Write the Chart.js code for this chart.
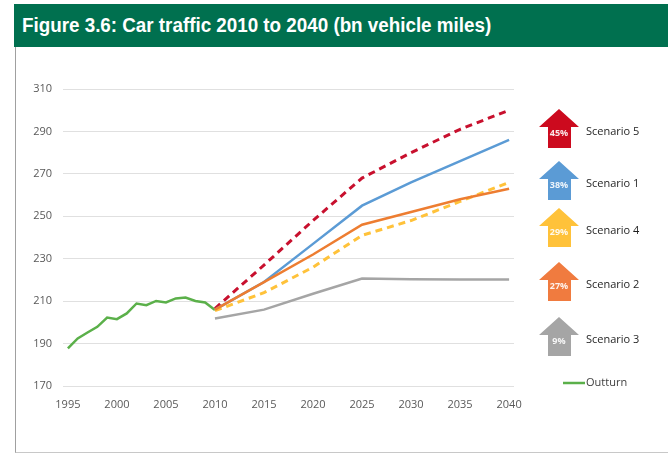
<!DOCTYPE html>
<html>
<head>
<meta charset="utf-8">
<script src="https://cdn.jsdelivr.net/npm/chart.js@4"></script>
<style>
  body { margin: 0; background: #fff; }
  #wrap { position: relative; width: 668px; height: 454px; overflow: hidden; }
  #title {
    position: absolute; left: 14px; top: 4px; width: 654px; height: 43px;
    background: #00704f; color: #fff;
    font: bold 20px "Liberation Sans", Arial, sans-serif;
    line-height: 43px; padding-left: 8px; box-sizing: border-box;
  }
  #title span { display: inline-block; transform: scaleX(0.94); transform-origin: left center; white-space: nowrap; }
  #frame {
    position: absolute; left: 15px; top: 47px; width: 660px; height: 405px;
    border-left: 1px solid #a0a0a0; border-bottom: 1px solid #c8c8c8;
  }
  canvas { position: absolute; left: 0; top: 0; }
</style>
</head>
<body>
<div id="wrap">
  <div id="frame"></div>
  <div id="title"><span>Figure 3.6: Car traffic 2010 to 2040 (bn vehicle miles)</span></div>
  <canvas id="c" width="668" height="454"></canvas>
</div>
<script>
// dados
const anosOutturn = [1995,1996,1997,1998,1999,2000,2001,2002,2003,2004,2005,2006,2007,2008,2009,2010];
const outturn = [187.7,192.4,195.2,197.9,202.3,201.5,204.2,208.9,208.1,210.1,209.4,211.3,211.7,210.1,209.4,205.8];

const anosCenario = [2010,2015,2020,2025,2030,2035,2040];
const cenario5 = [206.5,227,248,268,280,291,300];
const cenario1 = [206,219,237,255,266,276,286];
const cenario4 = [205.5,214,226,241,248,257,266];
const cenario2 = [206,219,232,246,252,258,263];
const cenario3 = [201.8,206,213.5,220.7,220.3,220.2,220.2];

const xTicks = [1995,2000,2005,2010,2015,2020,2025,2030,2035,2040];
const yTicks = [170,190,210,230,250,270,290,310];

// legenda com setas (ordem da figura)
const legendNomes = ['Scenario 5','Scenario 1','Scenario 4','Scenario 2','Scenario 3'];
const legendPct = [45,38,29,27,9];
const legendCores = ['#cc0a1e','#5b9bd5','#ffc23a','#f07b3f','#a5a5a5'];

const pts = (xs, ys) => xs.map((x, i) => ({ x, y: ys[i] }));

const setas = {
  id: 'setas',
  afterDraw(chart) {
    const c = chart.ctx;
    const ys = [131, 183, 230, 284, 339];
    const cx = 559;
    c.save();
    legendNomes.forEach((nome, i) => {
      const y = ys[i];
      const top = y - 22, base = y - 4, bot = y + 17;
      c.fillStyle = legendCores[i];
      c.beginPath();
      c.moveTo(cx, top);
      c.lineTo(cx + 20, base);
      c.lineTo(cx + 12, base);
      c.lineTo(cx + 12, bot);
      c.lineTo(cx - 11, bot);
      c.lineTo(cx - 11, base);
      c.lineTo(cx - 20, base);
      c.closePath();
      c.fill();
      c.fillStyle = 'rgba(255,255,255,0.9)';
      c.font = 'bold 9px "Open Sans", sans-serif';
      c.textAlign = 'center';
      c.textBaseline = 'middle';
      c.fillText(legendPct[i] + '%', cx, y + 2);
      c.fillStyle = '#1f1f1f';
      c.font = '11px "Open Sans", sans-serif';
      c.textAlign = 'left';
      c.fillText(nome, 586, y + 1);
    });
    // Outturn
    c.strokeStyle = '#5bb04a';
    c.lineWidth = 2.5;
    c.beginPath(); c.moveTo(563, 383); c.lineTo(585, 383); c.stroke();
    c.fillStyle = '#404040';
    c.font = '11px "Open Sans", sans-serif';
    c.textAlign = 'left'; c.textBaseline = 'middle';
    c.fillText('Outturn', 586, 383);
    c.restore();
  }
};

const linha = (label, xs, ys, cor, dash) => ({
  label, data: pts(xs, ys), borderColor: cor, backgroundColor: cor,
  borderWidth: dash ? 3 : 2.5, borderDash: dash || [], pointRadius: 0, tension: 0, fill: false
});

new Chart(document.getElementById('c'), {
  type: 'line',
  data: {
    datasets: [
      linha('Scenario 3', anosCenario, cenario3, '#a5a5a5'),
      linha('Scenario 2', anosCenario, cenario2, '#ed7d31'),
      linha('Scenario 4', anosCenario, cenario4, '#ffc23a', [7, 5]),
      linha('Scenario 1', anosCenario, cenario1, '#5b9bd5'),
      linha('Scenario 5', anosCenario, cenario5, '#c8102e', [7, 5]),
      linha('Outturn', anosOutturn, outturn, '#5bb04a')
    ]
  },
  options: {
    responsive: false,
    animation: false,
    layout: { padding: { left: 18, right: 154, top: 89, bottom: 40 } },
    plugins: { legend: { display: false }, tooltip: { enabled: false } },
    scales: {
      x: {
        type: 'linear', min: 1994.5, max: 2040.5,
        afterBuildTicks: a => { a.ticks = xTicks.map(v => ({ value: v })); },
        afterFit: a => { a.height = 28; },
        grid: { display: false, drawTicks: false },
        border: { display: false },
        ticks: { color: '#595959', font: { family: 'Open Sans', size: 11 }, padding: 12, maxRotation: 0, callback: v => String(v) }
      },
      y: {
        min: 170, max: 310,
        afterBuildTicks: a => { a.ticks = yTicks.map(v => ({ value: v })); },
        afterFit: a => { a.width = 45; },
        grid: { color: '#e0e0e0', drawTicks: false, lineWidth: 1 },
        border: { display: false },
        ticks: { color: '#595959', font: { family: 'Open Sans', size: 11 }, padding: 11, callback: v => String(v) }
      }
    }
  },
  plugins: [setas]
});
</script>
</body>
</html>
